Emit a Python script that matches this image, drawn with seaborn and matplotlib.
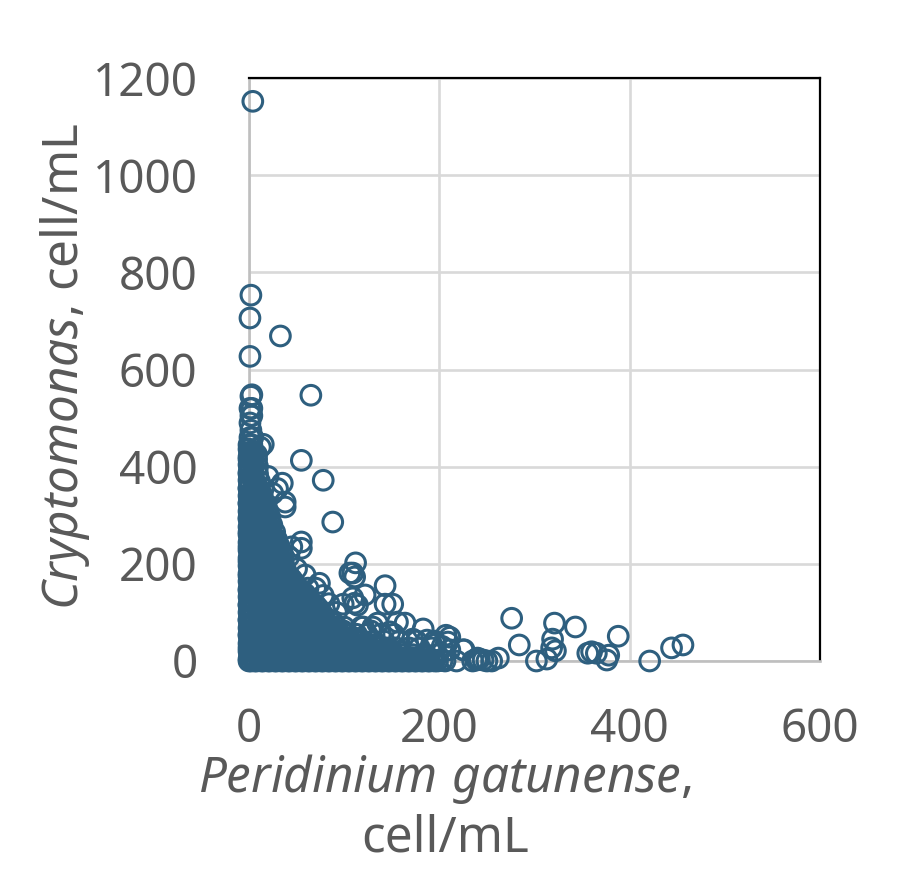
import matplotlib
matplotlib.use("Agg")
import matplotlib.pyplot as plt
import seaborn as sns
import pandas as pd

# scattered points read one by one
outlier_x = [4, 2, 1, 33, 1, 65, 2, 3, 55, 78, 88]
outlier_y = [1152, 753, 706, 669, 627, 547, 545, 548, 413, 372, 286]

tail_x = [276, 284, 321, 343, 388, 319, 318, 322, 313, 302, 356, 360, 365, 378, 376,
          421, 444, 456, 262, 250, 242, 255, 240, 246, 235, 225, 218, 211, 211, 239]
tail_y = [88, 33, 78, 70, 51, 45, 27, 21, 4, 0, 16, 19, 16, 12, 2,
          0, 27, 33, 6, 0, 4, 0, 6, 2, 0, 23, 0, 49, 23, 2]

edge_x = [15, 35, 38, 38, 55, 55, 45, 59, 74, 112, 109, 106, 111, 143, 143, 151, 122, 109,
          111, 114, 99, 183, 207, 209, 226, 164, 156, 135, 120, 187, 12, 8, 20, 25, 30, 42,
          50, 62, 70, 78, 84, 92, 128, 148, 172, 196, 203]
edge_y = [446, 366, 327, 317, 245, 232, 235, 177, 160, 202, 181, 181, 173, 155, 117, 117, 136, 130,
          119, 115, 117, 66, 53, 39, 23, 78, 80, 78, 70, 43, 440, 425, 380, 345, 355, 215,
          190, 150, 150, 135, 118, 100, 62, 60, 45, 35, 30]

# rows along the x axis and up the y axis, where the rings pile up
base_x = [2, 5, 8, 11, 15, 18, 22, 25, 29, 32, 36, 39, 43, 46, 50, 53, 57, 60, 64, 67, 71, 74, 78, 81, 85,
          88, 92, 95, 99, 102, 106, 109, 113, 116, 120, 123, 127, 130, 134, 137, 141, 144, 148, 151, 155,
          158, 162, 165, 169, 172, 176, 179, 183, 186, 190, 193, 198, 203]
base_y = [0, 2, 0, 3, 0, 1, 0, 2, 0, 3, 0, 1, 0, 2, 0, 3, 0, 1, 0, 2, 0, 3, 0, 1, 0,
          2, 0, 3, 0, 1, 0, 2, 0, 3, 0, 1, 0, 2, 0, 3, 0, 1, 0, 2, 0,
          3, 0, 1, 0, 2, 0, 3, 0, 1, 0, 2, 0, 1]
side_x = [0, 1, 0, 2, 0, 1, 0, 2, 0, 1, 0, 2, 0, 1, 0, 2, 0, 1, 0, 2, 0, 1, 0, 2, 0, 1, 0, 2, 0, 1,
          0, 2, 0, 1, 0, 2, 0, 1, 0, 2, 0, 1, 0, 2, 0, 1, 0, 2, 0, 1, 0, 2, 0, 1, 0]
side_y = [4, 12, 20, 28, 36, 44, 52, 60, 68, 76, 84, 92, 100, 108, 116, 124, 132, 140, 148, 156, 164, 172,
          180, 188, 196, 204, 212, 220, 228, 236, 244, 252, 260, 268, 276, 284, 292, 300, 308, 316, 324,
          332, 340, 348, 356, 364, 372, 380, 388, 396, 404, 412, 420, 428, 436]

# dense cloud, x values listed per y level
cloud_y = [0, 7, 13, 20, 27, 34, 41, 48, 55, 62, 70, 78, 85, 92, 100, 108, 115, 122, 130, 138, 145, 152, 160, 168,
           175, 182, 190, 198, 205, 212, 220, 228, 235, 242, 250, 258, 265, 272, 280, 288, 295, 302, 310, 318, 325,
           332, 340, 348, 355, 370, 385, 400, 415, 430, 445, 460, 475, 490, 505, 520]
cloud_x = [
    [0, 6, 13, 20, 27, 34, 41, 48, 55, 62, 69, 76, 83, 90, 97, 104, 111, 118, 125, 132, 139, 146, 153, 160, 167, 174, 181, 188, 195, 206],
    [3, 10, 17, 24, 31, 38, 45, 52, 59, 66, 73, 80, 87, 94, 101, 108, 115, 122, 129, 136, 143, 150, 157, 164, 171, 178],
    [1, 9, 17, 25, 33, 41, 49, 57, 65, 73, 81, 89, 97, 105, 113, 121, 129, 137, 145, 153, 161, 172, 186, 198],
    [4, 12, 20, 28, 36, 44, 52, 60, 68, 76, 84, 92, 100, 108, 116, 124, 132, 140, 148, 158],
    [0, 8, 16, 24, 32, 40, 48, 56, 64, 72, 80, 88, 96, 104, 112, 120, 128, 136, 144, 155, 168, 179, 192],
    [3, 11, 19, 27, 35, 43, 51, 59, 67, 75, 83, 91, 99, 107, 115, 123, 133],
    [2, 10, 18, 26, 34, 42, 50, 58, 66, 74, 82, 90, 98, 106, 114, 120, 131, 142, 158, 176, 195],
    [5, 13, 21, 29, 37, 45, 53, 61, 69, 77, 85, 93, 102, 110],
    [0, 8, 16, 24, 32, 40, 48, 56, 64, 72, 80, 88, 96, 104, 113, 124, 138, 152],
    [3, 11, 19, 27, 35, 43, 51, 59, 67, 75, 83, 91, 99],
    [2, 9, 16, 23, 30, 37, 44, 51, 58, 65, 72, 79, 86, 92, 100, 118, 130],
    [5, 12, 19, 26, 33, 40, 47, 54, 61, 68, 75, 82, 89],
    [0, 7, 14, 21, 28, 35, 42, 49, 56, 63, 70, 77, 84],
    [3, 10, 17, 24, 31, 38, 45, 52, 59, 66, 73, 79],
    [2, 9, 16, 23, 30, 37, 44, 51, 58, 65, 71, 76],
    [5, 12, 19, 26, 33, 40, 47, 54, 61, 68, 73],
    [0, 7, 14, 21, 28, 35, 42, 49, 56, 63, 70],
    [3, 10, 17, 24, 31, 38, 45, 52, 59, 65],
    [2, 9, 16, 23, 30, 37, 44, 51, 57, 62],
    [5, 12, 19, 26, 33, 40, 47, 54, 59],
    [0, 7, 14, 21, 28, 35, 42, 49, 55],
    [3, 10, 17, 24, 31, 38, 45, 51],
    [2, 9, 16, 23, 30, 37, 43, 48],
    [5, 12, 19, 26, 33, 40, 45],
    [0, 7, 14, 21, 28, 35, 42],
    [3, 10, 17, 24, 31, 38],
    [2, 9, 16, 23, 30, 38],
    [5, 12, 19, 26, 33],
    [0, 7, 14, 21, 28, 36],
    [3, 10, 17, 24, 31],
    [2, 9, 16, 23, 29, 34],
    [5, 12, 19, 26, 31],
    [0, 7, 14, 21, 27, 32],
    [3, 10, 17, 24, 30],
    [2, 9, 16, 23, 29],
    [5, 12, 19, 25],
    [0, 7, 14, 21, 27],
    [3, 10, 17, 23],
    [2, 8, 14, 19, 24],
    [5, 11, 17, 22],
    [0, 6, 12, 17, 22],
    [3, 9, 15, 20],
    [1, 7, 13, 19],
    [4, 10, 16],
    [0, 5, 11, 16],
    [3, 8, 13],
    [1, 6, 10, 14],
    [3, 8, 12],
    [0, 5, 10, 15],
    [1, 6, 11],
    [0, 4, 9],
    [1, 5, 9],
    [0, 4, 8],
    [1, 5],
    [0, 3],
    [1, 4],
    [2],
    [1],
    [2, 3],
    [1, 3],
]

x_ticks = [0, 200, 400, 600]
y_ticks = [0, 200, 400, 600, 800, 1000, 1200]

cloud = pd.DataFrame({"y": cloud_y, "x": cloud_x}).explode("x")
df = pd.concat([
    cloud,
    pd.DataFrame({"x": base_x, "y": base_y}),
    pd.DataFrame({"x": side_x, "y": side_y}),
    pd.DataFrame({"x": edge_x, "y": edge_y}),
    pd.DataFrame({"x": tail_x, "y": tail_y}),
    pd.DataFrame({"x": outlier_x, "y": outlier_y}),
], ignore_index=True)
df["x"] = df["x"].astype(float)

sns.set_style("white")
plt.rcParams["font.family"] = "Noto Sans"
plt.rcParams["mathtext.fontset"] = "custom"
plt.rcParams["mathtext.it"] = "Noto Sans:italic"
plt.rcParams["mathtext.rm"] = "Noto Sans"

grey = "#595959"
blue = "#2E5F7F"

fig = plt.figure(figsize=(9.1, 8.86), dpi=100)
ax = fig.add_axes([249 / 910, 1 - 661 / 886, 571 / 910, 583 / 886])

sns.scatterplot(data=df, x="x", y="y", ax=ax, s=200, facecolors="none",
                edgecolor=blue, clip_on=False, zorder=3, legend=False)
ax.collections[0].set_linewidth(2.2)

ax.set_xlim(0, 600)
ax.set_ylim(0, 1200)
ax.set_xticks(x_ticks)
ax.set_yticks(y_ticks)
ax.set_xlabel("")
ax.set_ylabel("")
ax.grid(True, color="#D9D9D9", linewidth=1.9)
ax.set_axisbelow(True)
ax.tick_params(axis="x", length=0, pad=33, labelsize=33, labelcolor=grey)
ax.tick_params(axis="y", length=0, pad=37, labelsize=33, labelcolor=grey)

for side in ["top", "right"]:
    ax.spines[side].set_color("black")
    ax.spines[side].set_linewidth(1.6)
for side in ["left", "bottom"]:
    ax.spines[side].set_color("#BFBFBF")
    ax.spines[side].set_linewidth(1.9)

fig.text(445 / 910, 1 - 808 / 886, "$\\mathit{Peridinium\\ gatunense}$,\ncell/mL",
         ha="center", va="center", fontsize=35.5, color=grey, linespacing=1.2)
fig.text(65 / 910, 1 - 367 / 886, "$\\mathit{Cryptomonas}$, cell/mL", rotation=90,
         ha="center", va="center", fontsize=35.5, color=grey)

fig.savefig("out.png", dpi=100)
